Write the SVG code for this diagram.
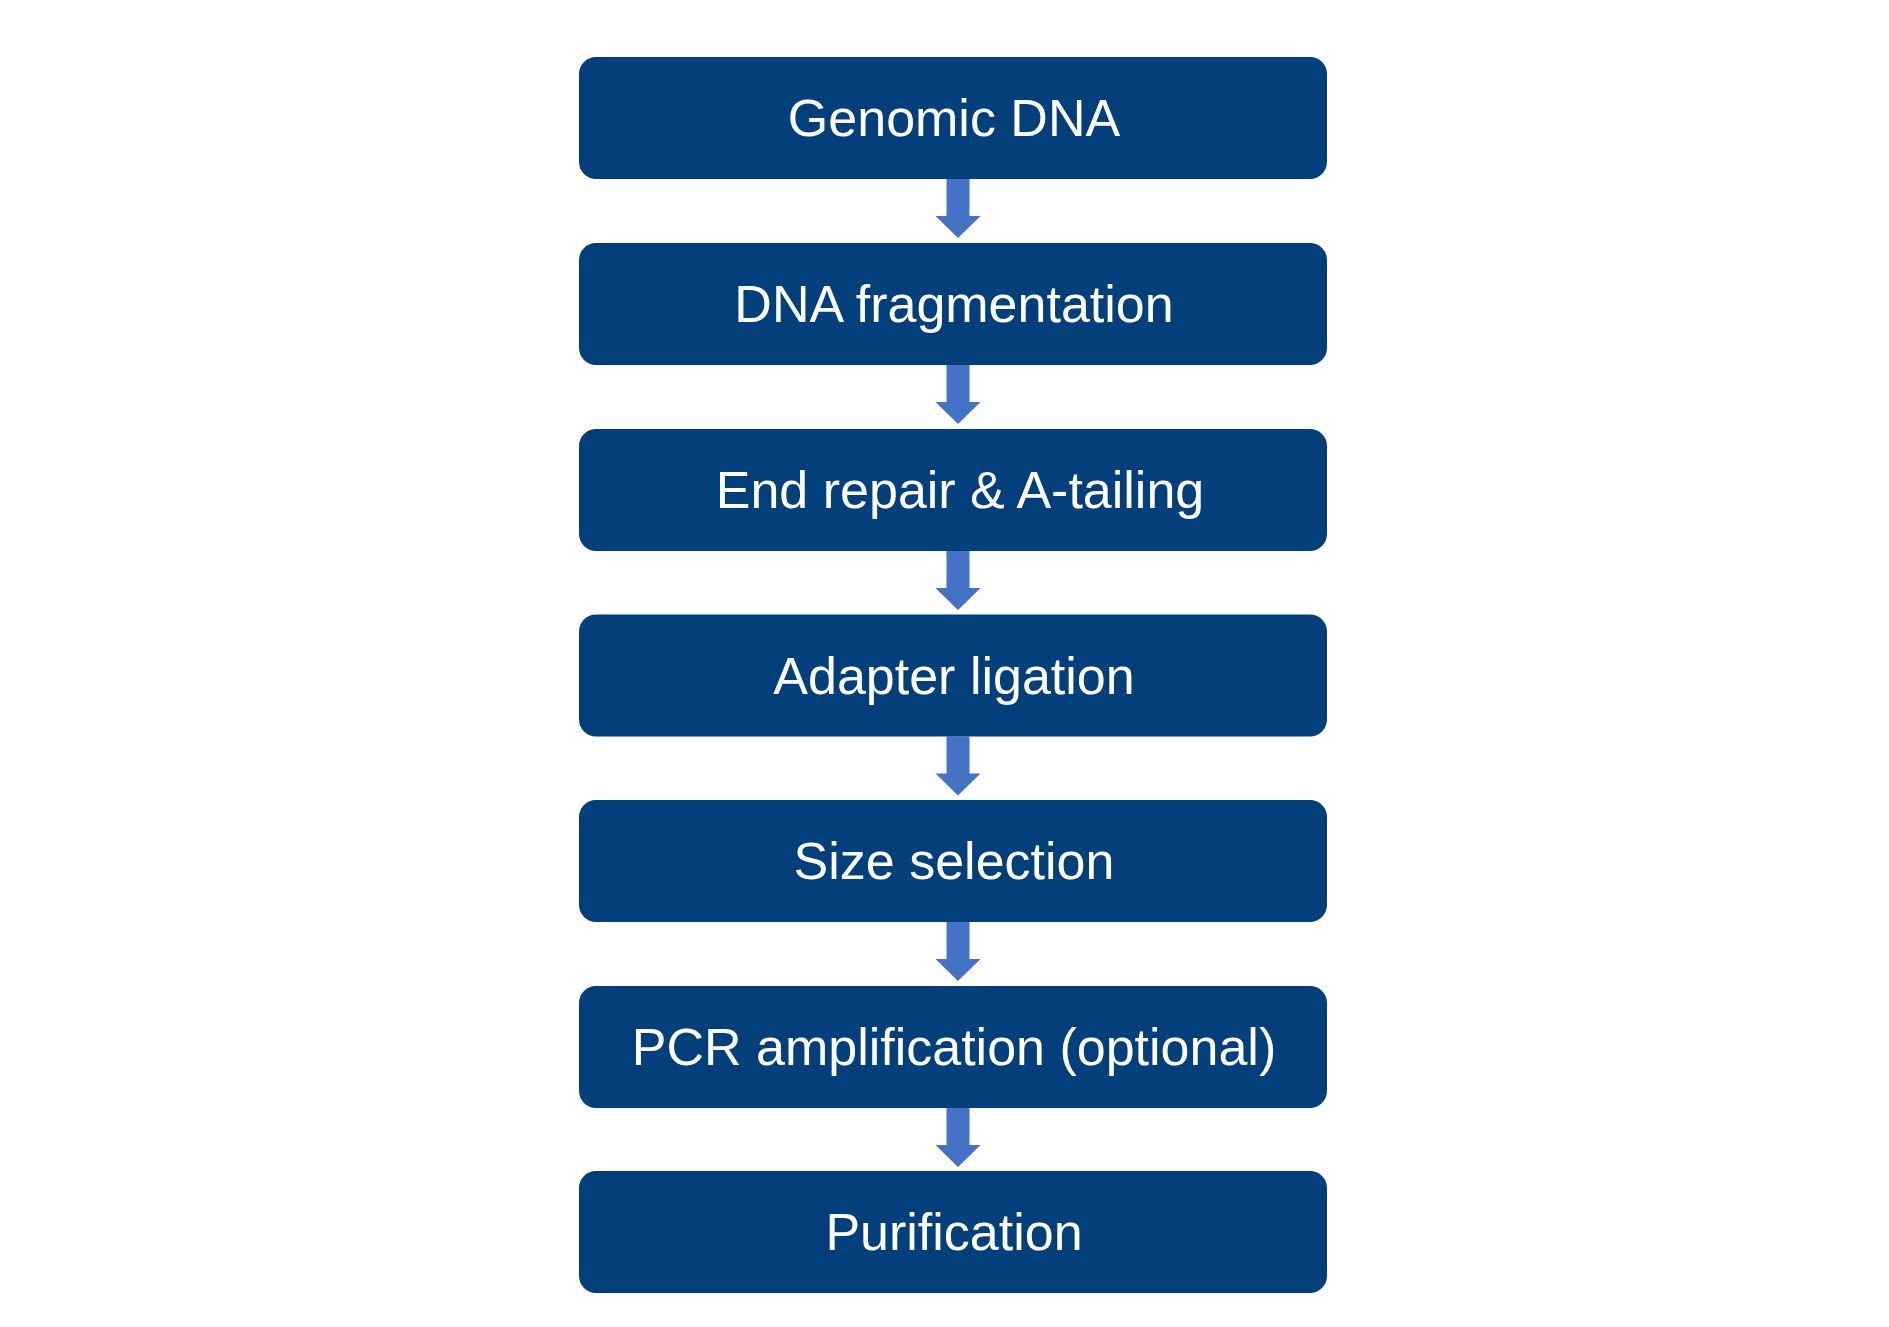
<svg xmlns="http://www.w3.org/2000/svg" width="1889" height="1327" viewBox="0 0 1889 1327">
  <defs>
    <style>
      .box { fill: #033F7A; }
      .label { fill: #FFFFFF; font-family: "Liberation Sans", Arial, sans-serif; font-size: 52px; text-anchor: middle; }
      .arrow { fill: #4472C4; }
    </style>
    <!-- down arrow, origin at top centre of the shaft -->
    <path id="down" d="M -11.5 0 H 11.5 V 37 H 22.5 L 0 59 L -22.5 37 H -11.5 Z"/>
  </defs>
  <rect width="1889" height="1327" fill="#FFFFFF"/>

  <g id="connectors" class="arrow">
    <use href="#down" x="958" y="179"/>
    <use href="#down" x="958" y="365"/>
    <use href="#down" x="958" y="551"/>
    <use href="#down" x="958" y="736.5"/>
    <use href="#down" x="958" y="922"/>
    <use href="#down" x="958" y="1108"/>
  </g>

  <g id="genomic-dna">
    <rect class="box" x="579" y="57" width="748" height="122" rx="17"/>
    <text class="label" x="954" y="136">Genomic DNA</text>
  </g>
  <g id="dna-fragmentation">
    <rect class="box" x="579" y="243" width="748" height="122" rx="17"/>
    <text class="label" x="954" y="322">DNA fragmentation</text>
  </g>
  <g id="end-repair">
    <rect class="box" x="579" y="429" width="748" height="122" rx="17"/>
    <text class="label" x="960" y="508">End repair &amp; A-tailing</text>
  </g>
  <g id="adapter-ligation">
    <rect class="box" x="579" y="614.5" width="748" height="122" rx="17"/>
    <text class="label" x="954" y="693.5">Adapter ligation</text>
  </g>
  <g id="size-selection">
    <rect class="box" x="579" y="800" width="748" height="122" rx="17"/>
    <text class="label" x="954" y="879">Size selection</text>
  </g>
  <g id="pcr-amplification">
    <rect class="box" x="579" y="986" width="748" height="122" rx="17"/>
    <text class="label" x="954" y="1065">PCR amplification (optional)</text>
  </g>
  <g id="purification">
    <rect class="box" x="579" y="1171" width="748" height="122" rx="17"/>
    <text class="label" x="954" y="1250">Purification</text>
  </g>
</svg>
